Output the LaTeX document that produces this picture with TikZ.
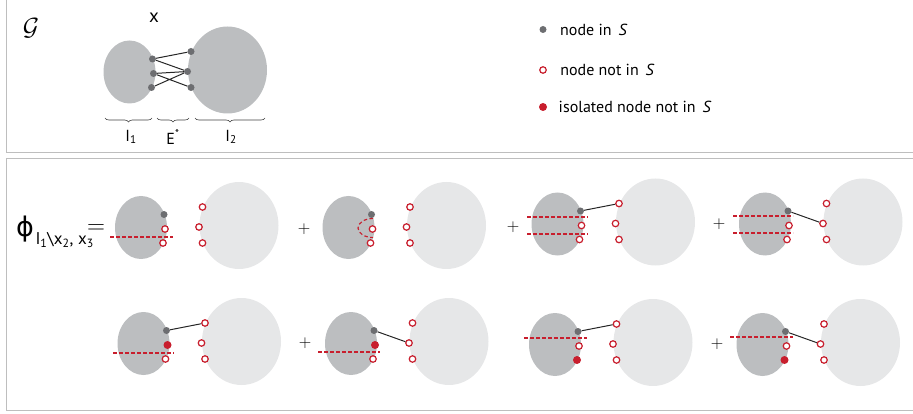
\documentclass[tikz,border=0pt]{standalone}
\usepackage{fontspec}
\setmainfont{PT Sans}
\newfontfamily\greekfont{DejaVu Sans}
\usepackage{tikz}
\usetikzlibrary{positioning,decorations.pathreplacing}
\definecolor{dgray}{RGB}{188,190,192}
\definecolor{lgray}{RGB}{230,231,232}
\definecolor{dotgray}{RGB}{109,110,113}
\definecolor{myred}{RGB}{200,30,45}
\definecolor{framegray}{RGB}{190,190,190}

\begin{document}
\begin{tikzpicture}[x=1pt,y=-1pt,
  sdot/.style={circle,fill=dotgray,inner sep=0pt,minimum size=7pt},
  ndot/.style={circle,draw=myred,fill=white,line width=1.2pt,inner sep=0pt,minimum size=6.5pt},
  idot/.style={circle,fill=myred,inner sep=0pt,minimum size=8pt},
  cut/.style={draw=myred,line width=1.15pt,dash pattern=on 3.5pt off 2.5pt},
  edge/.style={black!85,line width=1pt},
  frame/.style={framegray,line width=1.5pt},
  curly/.style={decorate,decoration={brace,mirror,amplitude=4pt},line width=0.6pt,black!75},
  lbl/.style={font=\fontsize{16}{19}\selectfont},
  plus/.style={font=\fontsize{18}{20}\selectfont}]
\useasboundingbox (0,0) rectangle (913,414);
\draw[frame] (913,152.5) -| (6.5,0);
\draw[frame] (913,158.5) -| (6.5,410.5) -- (913,410.5);
% the two sets with their border nodes
\foreach \n/\x/\y/\sa/\sb/\sr/\col in {0/129.5/72/sdot/sdot/sdot/dgray,
  1/141/227.5/ndot/ndot/ndot/lgray, 2/348.5/227.5/ndot/ndot/ndot/lgray,
  3/557.5/224/ndot/ndot/ndot/lgray, 4/765/224/ndot/ndot/ndot/lgray,
  5/143.5/343.5/idot/ndot/ndot/lgray, 6/351/343.5/idot/ndot/ndot/lgray,
  7/555/344.5/ndot/idot/ndot/lgray, 8/762.5/344.5/ndot/idot/ndot/lgray}{
  \fill[dgray] (\x,\y) ellipse [x radius=26pt, y radius=31.5pt];
  \fill[\col] (\x+98,\y-2) ellipse [x radius=39.5pt, y radius=43.5pt];
  \node[sdot] (l1-\n) at (\x+23,\y-13) {};
  \node[\sa] (l2-\n) at (\x+24,\y+1.5) {};
  \node[\sb] (l3-\n) at (\x+22,\y+15.5) {};
  \node[\sr] (r1-\n) at (\x+61.5,\y-20.5) {};
  \node[\sr] (r2-\n) at (\x+58,\y-0.5) {};
  \node[\sr] (r3-\n) at (\x+61.5,\y+15.5) {};
}
\draw[edge] (l1-0) -- (r1-0) (l1-0) -- (r2-0) (l2-0) -- (r2-0) (l2-0) -- (r3-0) (l3-0) -- (r2-0);
\draw[edge] (l1-3) -- (r1-3) (l1-4) -- (r2-4) (l1-5) -- (r1-5);
\draw[edge] (l1-6) -- (r2-6) (l1-7) -- (r1-7) (l1-8) -- (r2-8);
% cuts
\draw[cut] (110,237) -- (173,237);
\draw[cut] (373,218.5) arc[start angle=90, end angle=270, x radius=15pt, y radius=9.5pt];
\draw[cut] (527,217) -- (588,217);
\draw[cut] (527,234) -- (588,234);
\draw[cut] (733,216) -- (793,216);
\draw[cut] (733,233) -- (793,233);
\draw[cut] (113,353) -- (174,353);
\draw[cut] (318,352) -- (380,352);
\draw[cut] (524,338) -- (587,338);
\draw[cut] (730,337) -- (793,337);
% top panel
\node[font=\fontsize{27}{30}\selectfont] (g) at (31,28) {$\mathcal{G}$};
\node[font=\fontsize{19}{22}\selectfont] (x) at (154,18) {x};
\draw[curly] (105,118) -- (152,118);
\draw[curly] (157,118) -- (189,118);
\draw[curly] (195,118) -- (265,118);
\node[lbl] (i1) at (131,137) {I\textsubscript{1}};
\node[lbl] (es) at (173,137) {E\textsuperscript{*}};
\node[lbl] (i2) at (231,137) {I\textsubscript{2}};
% legend
\node[sdot] (key1) at (543,29.5) {};
\node[ndot] (key2) at (543,70) {};
\node[idot] (key3) at (543,107) {};
\node[lbl,right=10pt of key1] (t1) {node in \,\textit{S}};
\node[lbl,right=10pt of key2] (t2) {node not in \,\textit{S}};
\node[lbl,right=8pt of key3] (t3) {isolated node not in \,\textit{S}};
% bottom panel
\node[font=\greekfont\fontsize{27}{32}\selectfont] (phi) at (25,229) {ϕ};
\node[font=\fontsize{17}{20}\selectfont,anchor=west] (sub) at (32,240) {I\textsubscript{1}\textbackslash x\textsubscript{2}, x\textsubscript{3}};
\node[font=\fontsize{26}{30}\selectfont] (eq) at (96,229) {$=$};
\node[plus] (p1) at (304,229) {$+$};
\node[plus] (p2) at (513,227) {$+$};
\node[plus] (p3) at (719,224) {$+$};
\node[plus] (p4) at (305,343) {$+$};
\node[plus] (p5) at (717,344) {$+$};
\end{tikzpicture}
\end{document}
